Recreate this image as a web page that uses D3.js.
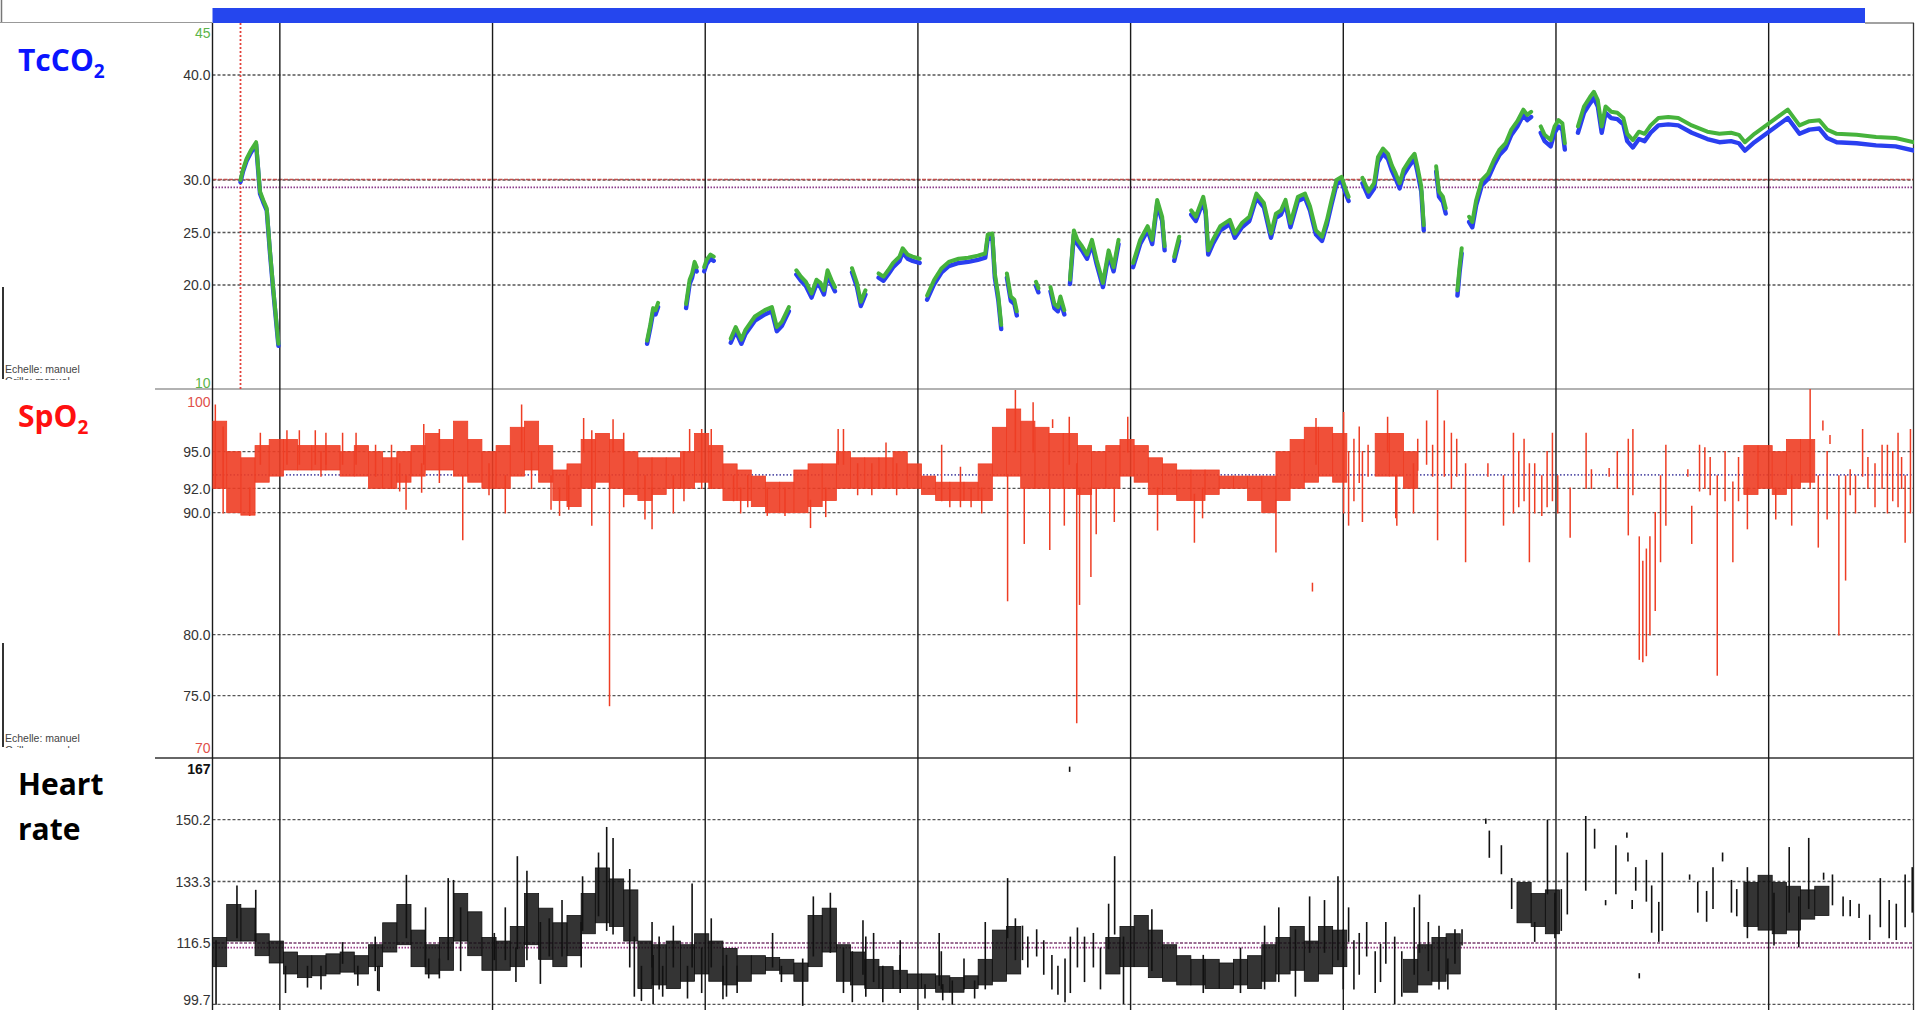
<!DOCTYPE html>
<html>
<head>
<meta charset="utf-8">
<script src="https://cdn.jsdelivr.net/npm/d3@7"></script>
<style>
  body { margin: 0; background: #fff; }
  svg { display: block; }
</style>
</head>
<body>
<svg id="chart"></svg>
<script>
// time is in minutes from the left edge of the record
const hourLines = [19, 79, 139, 199, 259, 319, 379, 439];
const probeStart = 7.9;

const tcTicks = [45, 40, 30, 25, 20, 10];
const tcLabels = ["45", "40.0", "30.0", "25.0", "20.0", "10"];
const tcGrid = [40, 30, 25, 20];
const tcLimits = [30.05, 29.3];

const spoTicks = [100, 95, 92, 90, 80, 75, 70];
const spoLabels = ["100", "95.0", "92.0", "90.0", "80.0", "75.0", "70"];
const spoGrid = [95, 92, 90, 80, 75];
const spoLimit = 93.1;

const hrTicks = [167, 150.2, 133.3, 116.5, 99.7];
const hrLabels = ["167", "150.2", "133.3", "116.5", "99.7"];
const hrGrid = [150.2, 133.3, 99.7];
const hrLimits = [116.5, 115.2];

// TcCO2 trace: null rows separate the recorded pieces
const tcTime = [
  7.9, 8.6, 9.6, 10.8, 12.3, 13.4, 14.3, 15.3, 16.2, 17.1, 18.6, null,
  122.6, 123.5, 124.3, 125.0, 125.7, null,
  133.6, 134.6, 135.3, 136.0, 136.6, null,
  138.7, 139.4, 140.5, 141.4, null,
  146.2, 147.6, 149.2, 150.3, 153.0, 155.8, 157.8, 159.2, 160.6, 162.6, null,
  164.7, 166.0, 167.4, 169.0, 170.4, 171.5, 172.5, 173.5, 174.6, 175.6, null,
  180.4, 181.8, 182.9, 184.2, null,
  187.9, 189.3, 190.6, 192.0, 193.8, 194.7, 196.1, 197.5, 199.5, null,
  201.6, 203.6, 205.7, 207.7, 210.5, 213.2, 215.9, 218.0, 218.7, 220.0, 220.7, 221.7, 222.5, null,
  224.1, 225.2, 226.2, 226.9, null,
  232.3, 233.0, null,
  236.4, 237.5, 238.5, 239.2, 240.3, null,
  241.9, 243.0, 244.0, 245.3, 246.7, 248.1, 249.4, 251.2, 252.8, 254.2, 255.6, null,
  259.7, 261.7, 263.8, 265.1, 266.5, 267.9, 268.6, null,
  271.3, 272.7, null,
  276.1, 277.4, 279.5, 280.2, 280.9, 282.2, 284.3, 287.0, 288.4, 290.4,
  292.5, 294.5, 296.6, 298.6, 300.0, 301.4, 302.7, 304.1, 306.2, 308.2,
  309.6, 311.3, 313.0, 314.4, 315.7, 317.1, 318.5, 319.8, 320.5, null,
  324.4, 326.1, 327.7, 328.8, 330.2, 331.6, 332.7, 333.8, 334.9, 336.0, 337.7, 339.1, 339.9, 341.0, 341.7, null,
  345.2, 346.0, 347.1, 347.9, null,
  351.2, 351.8, 352.4, null,
  354.5, 355.4, 356.5, 358.1, 359.8, 361.5, 363.1, 364.8, 366.4, 368.1, 369.8, 370.9, 372.0, null,
  374.7, 375.8, 377.5, 378.6, 379.7, 380.8, 381.5, null,
  385.2, 386.9, 388.6, 389.7, 390.8, 391.9, 393.0, 394.6, 396.3, 398.0,
  399.1, 400.7, 402.4, 404.0, 405.7, 407.9, 410.7, 413.5, 417.3, 421.7,
  425.1, 428.4, 430.6, 432.3, 435.0, 438.3, 441.1, 444.4, 447.7, 450.5,
  453.3, 455.5, 458.2, 463.8, 469.3, 474.8, 480.0
];
const tcGreen = [
  30.0, 31.0, 32.0, 32.8, 33.6, 28.9, 28.1, 27.3, 23.3, 19.8, 14.4, null,
  14.7, 16.2, 17.8, 17.6, 18.3, null,
  18.2, 20.5, 21.1, 22.2, 21.7, null,
  21.7, 22.4, 22.9, 22.7, null,
  14.9, 16.0, 14.8, 15.7, 17.0, 17.6, 17.9, 16.0, 16.5, 17.9, null,
  21.4, 20.8, 20.3, 19.2, 20.5, 20.2, 19.5, 21.4, 20.5, 19.8, null,
  21.6, 20.2, 18.4, 19.5, null,
  21.1, 20.8, 21.4, 22.1, 22.7, 23.5, 22.9, 22.7, 22.5, null,
  19.0, 20.5, 21.6, 22.2, 22.5, 22.6, 22.8, 23.0, 24.8, 24.9, 21.1, 18.9, 16.2, null,
  21.1, 18.9, 18.6, 17.5, null,
  20.3, 19.7, null,
  19.8, 18.2, 17.9, 18.9, 17.6, null,
  20.5, 25.2, 24.3, 23.7, 22.9, 24.3, 22.4, 20.2, 23.3, 21.7, 24.3, null,
  22.1, 24.3, 25.6, 24.3, 28.1, 26.5, 23.7, null,
  22.7, 24.6, null,
  27.1, 26.5, 28.4, 27.1, 23.3, 24.3, 25.6, 26.2, 24.9, 25.9,
  26.5, 28.7, 27.8, 24.9, 26.8, 27.1, 28.1, 25.9, 28.4, 28.7,
  27.5, 25.2, 24.6, 26.2, 28.1, 30.0, 30.3, 29.0, 28.4, null,
  30.2, 28.9, 29.7, 32.2, 33.0, 32.5, 31.4, 30.6, 29.7, 31.0, 31.9, 32.5, 31.3, 29.4, 25.7, null,
  31.3, 28.9, 28.4, 27.3, null,
  19.5, 21.7, 23.5, null,
  26.5, 26.0, 28.1, 30.0, 30.6, 31.9, 32.9, 33.5, 34.8, 35.6, 36.7, 36.2, 36.5, null,
  35.1, 34.3, 33.8, 35.1, 35.7, 35.4, 33.5, null,
  35.1, 37.0, 37.9, 38.4, 37.6, 35.1, 37.0, 36.5, 36.4, 35.9,
  34.4, 33.8, 34.6, 34.4, 35.2, 35.9, 36.0, 35.9, 35.2, 34.6,
  34.4, 34.5, 34.3, 33.6, 34.4, 35.2, 35.9, 36.7, 35.2, 35.6,
  35.7, 34.8, 34.4, 34.3, 34.1, 34.0, 33.6
];
const tcBlue = [
  29.8, 30.8, 31.8, 32.6, 33.4, 28.7, 27.9, 27.1, 23.1, 19.6, 14.2, null,
  14.4, 15.9, 17.4, 17.2, 17.9, null,
  17.8, 20.1, 20.7, 21.8, 21.3, null,
  21.3, 22.0, 22.5, 22.3, null,
  14.5, 15.6, 14.4, 15.3, 16.6, 17.2, 17.5, 15.6, 16.1, 17.5, null,
  21.0, 20.4, 19.9, 18.8, 20.1, 19.8, 19.1, 21.0, 20.1, 19.4, null,
  21.2, 19.8, 18.0, 19.1, null,
  20.7, 20.4, 21.0, 21.7, 22.3, 23.1, 22.5, 22.3, 22.1, null,
  18.6, 20.1, 21.2, 21.8, 22.1, 22.2, 22.4, 22.6, 24.4, 24.5, 20.7, 18.5, 15.8, null,
  20.7, 18.5, 18.2, 17.1, null,
  19.9, 19.3, null,
  19.4, 17.8, 17.5, 18.5, 17.2, null,
  20.1, 24.8, 23.9, 23.3, 22.5, 23.9, 22.0, 19.8, 22.9, 21.3, 23.9, null,
  21.7, 23.9, 25.2, 23.9, 27.7, 26.1, 23.3, null,
  22.3, 24.2, null,
  26.7, 26.1, 28.0, 26.7, 22.9, 23.9, 25.2, 25.8, 24.5, 25.5,
  26.1, 28.3, 27.4, 24.5, 26.4, 26.7, 27.7, 25.5, 28.0, 28.3,
  27.1, 24.8, 24.2, 25.8, 27.7, 29.6, 29.9, 28.6, 28.0, null,
  29.7, 28.4, 29.2, 31.7, 32.5, 32.0, 30.9, 30.1, 29.2, 30.5, 31.4, 32.0, 30.8, 28.9, 25.2, null,
  30.8, 28.4, 27.9, 26.8, null,
  19.0, 21.2, 23.0, null,
  26.0, 25.5, 27.6, 29.5, 30.1, 31.4, 32.4, 33.0, 34.3, 35.1, 36.2, 35.7, 36.0, null,
  34.5, 33.7, 33.2, 34.5, 35.1, 34.8, 32.9, null,
  34.5, 36.4, 37.3, 37.8, 37.0, 34.5, 36.4, 35.9, 35.8, 35.3,
  33.7, 33.1, 33.9, 33.7, 34.5, 35.2, 35.3, 35.2, 34.5, 33.9,
  33.6, 33.7, 33.5, 32.8, 33.6, 34.4, 35.1, 35.9, 34.4, 34.8,
  34.9, 34.0, 33.6, 33.5, 33.3, 33.2, 32.8
];

// SpO2 and heart rate: low / high of each 4-minute bin, null where the signal is sparse
const binMinutes = 4;
const spoLo = [
  92, 90, 89.8, 92.5, 93, 93.5, 93.5, 93.5, 93.5, 93,
  93, 92, 92, 92.5, 93, 93.5, 93.5, 93, 92.5, 92,
  92, 93, 93.5, 92.5, 91, 90.5, 92, 92.5, 92, 91.5,
  91, 91.5, 92, 92, 92.5, 92, 91, 91, 90.5, 90,
  90, 90, 90.5, 91, 92, 92, 92, 92, 92, 92,
  91.5, 91, 91, 91, 91, 93, 93, 92, 92, 92,
  92, 91.5, 92, 92, 93, 92.5, 91.5, 91.5, 91, 91,
  91.5, 92, 92, 91, 90, 91, 92, 92.5, 93, 92.5,
  null, null, 93, 93, 92, null, null, null, null, null,
  null, null, null, null, null, null, null, null, null, null,
  null, null, null, null, null, null, null, null, 91.5, 92,
  91.5, 92, 92.5, null, null, null, null, null, null, null
];
const spoHi = [
  97.5, 95, 94.5, 95.5, 96, 96, 95.5, 95.5, 95.5, 95,
  95.5, 95, 94.5, 95, 95.5, 96.5, 96, 97.5, 96, 95,
  95.5, 97, 97.5, 95.5, 93.5, 94, 96, 96.5, 96, 95,
  94.5, 94.5, 94.5, 95, 96.5, 95.5, 94, 93.5, 93, 92.5,
  92.5, 93.5, 94, 94, 95, 94.5, 94.5, 94.5, 95, 94,
  93, 92.5, 92.5, 92.5, 94, 97, 98.5, 97.5, 97, 96.5,
  96.5, 95.5, 95, 95.5, 96, 95.5, 94.5, 94, 93.5, 93.5,
  93.5, 93, 93, 93, 93, 95, 96, 97, 97, 96.5,
  null, null, 96.5, 96.5, 95, null, null, null, null, null,
  null, null, null, null, null, null, null, null, null, null,
  null, null, null, null, null, null, null, null, 95.5, 95.5,
  95, 96, 96, null, null, null, null, null, null, null
];
// [time, low, high] single strokes: spikes, dips, band edges and the sparse part of the record
const spoStrokes = [
  [0.8, 92, 98.8], [3, 90, 97], [10.5, 89.8, 92], [54.6, 90.3, 93], [59.6, 94, 97.2],
  [70.6, 87.8, 93], [82.6, 90, 93], [87.2, 95, 98.8], [97.9, 89.8, 92], [104.7, 95, 97.7],
  [112, 74.2, 93], [113, 95, 97.6], [124, 88.7, 92], [134.6, 95, 96.8], [149, 90, 92],
  [168.7, 88.8, 91], [176.5, 94, 96.8], [217, 90, 92], [224.3, 82.8, 93], [226.5, 95, 100],
  [229, 87.5, 92], [231.5, 95, 99], [236.2, 87, 92], [237, 97, 97.6], [240.3, 89, 92],
  [241.7, 94, 97.8], [243.8, 72.8, 94], [244.6, 82.5, 92], [247.8, 84.8, 92], [249.3, 88.3, 92],
  [254.4, 89.3, 92], [258.2, 95, 97.8], [266.6, 88.6, 92], [277, 87.6, 91.5], [279.3, 89.6, 92],
  [300, 86.8, 91], [310.3, 83.6, 84.2], [311.3, 94, 97.7],
  [13.5, 94, 96.5], [21, 94, 96.7], [24.5, 94, 96.7], [29, 94, 96.7], [30.6, 93, 95],
  [32, 94, 96.5], [36.7, 94, 96.5], [40.5, 94, 96.5], [46, 93, 95.5], [50.5, 92, 95.5],
  [52.8, 91.8, 94], [59, 91.7, 94], [64, 92.5, 96.8], [78, 91.5, 94], [90, 92, 95],
  [95.5, 90.3, 93], [100.5, 90.3, 93], [107, 89, 96.7], [116, 90.5, 96.5], [122, 89.5, 93],
  [130, 90, 93], [133, 91, 95], [138, 92, 96.8], [140.7, 92, 96.8], [147, 91, 93],
  [151, 90.5, 93], [156.5, 89.8, 92], [161.5, 89.8, 92], [173, 89.7, 92], [178, 94, 96.8],
  [182, 91.5, 94], [186, 91.5, 94], [190, 92, 95.7], [193, 91.5, 94], [205.7, 91, 95.5],
  [208, 90.5, 92], [211, 90.5, 93.7], [214, 90.5, 92],
  [319.1, 90, 98.2], [320.5, 89, 95], [322, 91, 96], [323.5, 92.5, 97], [324.4, 89.3, 95],
  [326, 93, 95.5], [331.5, 95, 97.8], [333.8, 89.6, 93], [334.1, 89, 93], [338.8, 90, 94],
  [340, 93.5, 96], [342.5, 94, 97.5], [344.2, 93, 95.5], [345.6, 87.8, 100], [347.5, 93, 97.5],
  [349.5, 92, 96.5], [351, 93, 96], [353.5, 86, 94], [359.8, 93, 94], [364.2, 89, 93],
  [367, 90, 96.5], [368.5, 90.5, 95], [370, 91, 96], [371.5, 86, 94], [373, 90, 94],
  [375, 89.8, 93], [376.5, 90.5, 95], [378, 91, 96.5], [379.5, 90, 93], [383, 88, 92],
  [387.5, 92, 96.5], [389, 92, 93.5], [394, 93, 93.6], [396.3, 92, 95], [399.4, 88.2, 96],
  [400.7, 91.5, 96.8], [402.5, 78, 88], [403.5, 77.8, 86], [404.5, 78.3, 87], [405.5, 80, 88],
  [407, 82, 90], [408.5, 86, 93], [410, 89, 95.5], [416.2, 93, 93.5], [417.3, 87.5, 90.5],
  [419.5, 91.8, 95.5], [421, 92, 95.3], [422.5, 91.5, 94.5], [424.5, 76.7, 93], [426.7, 91, 95],
  [428.9, 86, 92.5], [430.5, 91, 94.5], [433, 88.7, 92], [441, 89.5, 92], [445.5, 89, 93],
  [450.7, 92, 100.5], [453, 87.2, 93], [454.3, 96.8, 97.5], [455.5, 89.5, 95], [456.3, 95.7, 96.3],
  [458.8, 80, 93], [460.7, 84.5, 93], [462, 91.5, 93.5], [463.5, 90, 93], [465.5, 93, 96.8],
  [467, 92, 94.5], [469, 90.5, 94], [471, 92, 95.5], [472.5, 90, 95.5], [474, 91, 95],
  [475.5, 90.5, 96.5], [476.5, 92, 94.5], [477.5, 87.6, 93], [479, 90, 96.8]
];

const hrLo = [
  110, 117, 117, 113, 111, 108, 107, 107.5, 108, 108.5,
  108, 110, 114, 116, 110, 108, 109, 117, 113, 109,
  109, 110, 116, 112, 110, 113, 119, 122, 121, 117,
  104, 105, 104, 106, 108, 106, 105, 106, 108, 109,
  108, 106, 110, 114, 106, 105, 104, 104, 104, 104,
  104, 103, 103, 104, 105, 106, 108, null, null, null,
  null, null, null, 108, 110, 110, 107, 106, 105, 105,
  104, 104, 105, 104, 106, 108, 109, 106, 108, 110,
  null, null, null, null, 103, 105, 106, 108, null, null,
  null, null, 122, 121, 119, null, null, null, null, null,
  null, null, null, null, null, null, null, null, 121, 120,
  119, 120, 123, 124, null, null, null, null, null, null
];
const hrHi = [
  118, 127, 126, 119, 117, 114, 113, 113, 113.5, 114,
  113, 116, 122, 127, 120, 116, 118, 130, 125, 118,
  117, 121, 130, 126, 122, 124, 130, 137, 134, 131,
  117, 116, 117, 116, 119, 117, 115, 113, 113, 112.5,
  112, 111, 124, 126, 116, 114, 112, 110, 109, 108,
  108, 107.5, 107, 107.5, 112, 120, 121, null, null, null,
  null, null, null, 118, 121, 124, 120, 116, 113, 112,
  112, 111, 112, 113, 116, 118, 121, 117, 121, 120,
  null, null, null, null, 112, 116, 118, 119, null, null,
  null, null, 133, 130, 131, null, null, null, null, null,
  null, null, null, null, null, null, null, null, 133, 135,
  133, 132, 131, 132, null, null, null, null, null, null
];
const hrStrokes = [
  [1, 99.8, 117], [6.9, 118, 132], [12.2, 117, 130.8], [36.7, 111, 116.5], [45.9, 109, 118],
  [47, 103.5, 110], [54.7, 118, 134.9], [60.1, 110, 126], [66.5, 112, 134], [68, 118, 133.5],
  [70, 109, 126], [86, 115, 140], [88.7, 112, 136], [92.5, 105.5, 122], [98.6, 113, 128],
  [104.4, 120, 134.5], [108.9, 124, 141], [111.2, 120, 148], [113, 119, 145], [117.7, 110, 136.5],
  [119, 102, 118], [124.3, 100, 113], [126, 104, 118], [135.3, 110, 132.5], [138, 103, 115],
  [145, 102, 113], [158, 110, 119], [166.5, 99.5, 112], [169.5, 113, 129], [174.3, 114, 130],
  [178, 103, 115], [180.5, 100.5, 114], [184.3, 102, 118], [189.1, 100.5, 110], [194, 103, 113],
  [205.6, 104, 114], [208.7, 99.8, 106], [212, 104, 112], [218, 104, 122], [224.3, 118, 134],
  [226.5, 112, 123], [228.5, 112, 121], [230, 110, 118], [232.5, 113, 120], [234.5, 108, 117],
  [236.8, 104, 113], [238.5, 102.5, 110],
  [20.6, 103, 110], [26.8, 104.5, 110], [30.6, 104, 110], [41, 105, 110], [46.6, 103.6, 110],
  [61, 107, 112], [64, 107, 112], [79.5, 112, 119], [82.6, 112, 126], [85.6, 106, 115],
  [95, 113, 123], [104, 110, 122], [121, 100.8, 110], [124, 110, 122], [127, 102, 110],
  [130, 110, 121], [134, 101.5, 110], [140.7, 110, 123], [144, 101.3, 110], [148, 103, 110],
  [160.5, 106, 110], [183.5, 108, 122.5], [186.5, 106, 119], [194, 108, 117], [201, 101.5, 105],
  [205, 105, 119], [206, 101, 105], [215, 101.5, 106],
  [240.5, 100.5, 112], [241.8, 163.5, 164.5], [242, 103, 118], [244, 110, 120.5], [246, 106, 118],
  [248.5, 110, 119], [250.5, 104, 115], [252.8, 115, 127], [254.5, 119, 140], [257, 100, 118],
  [265, 109, 125.5], [279.5, 103, 113], [290, 103, 115], [296.8, 104, 121], [300.8, 106, 126],
  [305.5, 102, 120], [309.5, 114, 129], [313.7, 114, 128], [317.5, 112, 134.5], [319, 104, 120],
  [320.5, 117, 126], [322, 104, 117], [323.5, 108, 119], [325.6, 113, 122], [328, 103, 114],
  [329.5, 106, 116], [331, 111, 122], [333.5, 100, 118], [335.5, 102, 114], [339, 108, 126],
  [340.5, 114, 129.5], [343, 109, 122], [346, 104, 121], [348.5, 104, 112], [350.5, 111, 120],
  [352.5, 116, 120],
  [359.2, 149.3, 150.3], [360.2, 140, 147], [363.6, 135.5, 143], [366.5, 126, 134], [373, 117, 122],
  [376.6, 130, 150], [378.7, 118, 130], [380.5, 120, 131], [382.2, 124.5, 141], [387.4, 131, 151],
  [389.9, 142.5, 147.5], [393, 127, 128], [395.9, 130, 143], [399, 145.5, 146.5], [399.3, 139, 141],
  [400.5, 126, 128], [401.5, 131, 137], [402.5, 107, 108], [404.5, 128, 139], [406, 119.5, 132],
  [408, 117, 127.5], [409, 120, 141], [416.7, 134, 135], [419, 125, 133], [421.5, 122.5, 130.5],
  [423.3, 126, 137], [426, 139, 141], [428.5, 125, 133.5], [430, 124, 131], [433, 118, 137],
  [440.5, 116, 130], [444.8, 125, 142.5], [447.5, 115.5, 129], [450.3, 126, 145], [454.5, 134, 135.5],
  [457, 127, 135], [460, 124, 129], [462, 124, 128], [464.5, 123.5, 127], [467.5, 117.5, 124],
  [470.5, 121, 134], [473, 118, 128], [475, 117.5, 127], [477.5, 121, 135], [479.5, 125, 137]
];

// ---- layout ----
const width = 1915, height = 1010;
const plotLeft = 212.5, plotRight = 1914;
const tcTop = 23, tcBottom = 389, spTop = 389, spBottom = 758, hrTop = 758, hrBottom = 1010;
const labelFont = "'Liberation Sans', Arial, sans-serif";
const titleFont = "'Open Sans', 'Noto Sans', sans-serif";

const x = d3.scaleLinear().domain([0, 480]).range([plotLeft, plotRight]);
const yTc = d3.scaleLinear().domain([10, 45]).range([390, 22.5]);
const ySp = d3.scaleLinear().domain([70, 100]).range([756.7, 390.7]);
const yHr = d3.scaleLinear().domain([99.7, 167]).range([1004.3, 758.3]);

const svg = d3.select("#chart").attr("width", width).attr("height", height);

const defs = svg.append("defs");
[["clipTc", tcTop, tcBottom], ["clipSp", spTop, spBottom], ["clipHr", hrTop, hrBottom]].forEach(([id, t, b]) => {
  defs.append("clipPath").attr("id", id).append("rect")
    .attr("x", plotLeft).attr("y", t).attr("width", plotRight - plotLeft).attr("height", b - t);
});
[["clipNote1", 0, 380], ["clipNote2", 390, 748]].forEach(([id, t, b]) => {
  defs.append("clipPath").attr("id", id).append("rect")
    .attr("x", 0).attr("y", t).attr("width", 150).attr("height", b - t);
});

// frame bits
svg.append("rect").attr("x", plotLeft).attr("y", 8).attr("width", 1865 - plotLeft).attr("height", 15).attr("fill", "#2546ee");
svg.append("line").attr("x1", 0).attr("x2", plotLeft).attr("y1", 22.5).attr("y2", 22.5).attr("stroke", "#999").attr("stroke-width", 1.2);
svg.append("line").attr("x1", 1.5).attr("x2", 1.5).attr("y1", 0).attr("y2", 22).attr("stroke", "#777").attr("stroke-width", 1.5);
svg.append("line").attr("x1", 1865).attr("x2", plotRight).attr("y1", 23).attr("y2", 23).attr("stroke", "#444").attr("stroke-width", 1.2);
svg.append("line").attr("x1", 155).attr("x2", plotRight).attr("y1", 389).attr("y2", 389).attr("stroke", "#999").attr("stroke-width", 1.3);
svg.append("line").attr("x1", 155).attr("x2", plotRight).attr("y1", 758).attr("y2", 758).attr("stroke", "#333").attr("stroke-width", 1.6);
svg.append("line").attr("x1", 3).attr("x2", 3).attr("y1", 287).attr("y2", 379).attr("stroke", "#333").attr("stroke-width", 2);
svg.append("line").attr("x1", 3).attr("x2", 3).attr("y1", 643).attr("y2", 747).attr("stroke", "#333").attr("stroke-width", 2);

// horizontal grid
function hLines(y, values, color, dash, w) {
  svg.append("g").selectAll("line").data(values).join("line")
    .attr("x1", plotLeft).attr("x2", plotRight)
    .attr("y1", d => y(d)).attr("y2", d => y(d))
    .attr("stroke", color).attr("stroke-width", w).attr("stroke-dasharray", dash);
}
hLines(yTc, tcGrid, "#555", "3,2", 1.3);
hLines(ySp, spoGrid, "#555", "3,2", 1.3);
hLines(yHr, hrGrid, "#555", "3,2", 1.3);
hLines(yTc, [tcLimits[0]], "#c0504d", "4,1.5", 1.6);
hLines(yTc, [tcLimits[1]], "#8a3a8a", "1.5,1.5", 1.8);
hLines(ySp, [spoLimit], "#5a55aa", "1.5,2", 1.6);
hLines(yHr, [hrLimits[0]], "#7a3f6f", "3,1.5", 1.5);
hLines(yHr, [hrLimits[1]], "#9a3f8a", "1.5,1.5", 1.6);

// vertical hour lines and axis line
svg.append("g").selectAll("line").data(hourLines).join("line")
  .attr("x1", d => x(d)).attr("x2", d => x(d)).attr("y1", tcTop).attr("y2", height)
  .attr("stroke", "#1a1a1a").attr("stroke-width", 1.4);
svg.append("line").attr("x1", plotLeft).attr("x2", plotLeft).attr("y1", tcTop).attr("y2", height)
  .attr("stroke", "#1a1a1a").attr("stroke-width", 1.4);
svg.append("line").attr("x1", plotRight - 0.5).attr("x2", plotRight - 0.5).attr("y1", tcTop).attr("y2", height)
  .attr("stroke", "#333").attr("stroke-width", 1.3);

// probe start marker
svg.append("line").attr("x1", x(probeStart)).attr("x2", x(probeStart)).attr("y1", tcTop).attr("y2", tcBottom)
  .attr("stroke", "#e2403a").attr("stroke-width", 1.8).attr("stroke-dasharray", "2,2");

// ---- traces ----
const tcPts = tcTime.map((t, i) => ({ t: t, g: tcGreen[i], b: tcBlue[i] }));
const tcLine = key => d3.line()
  .defined(d => d.t != null && d[key] != null)
  .x(d => x(d.t)).y(d => yTc(d[key]));
const tcG = svg.append("g").attr("clip-path", "url(#clipTc)").attr("fill", "none")
  .attr("stroke-linejoin", "round").attr("stroke-linecap", "round");
tcG.append("path").datum(tcPts).attr("d", tcLine("b")).attr("stroke", "#2a3ff0").attr("stroke-width", 4.4);
tcG.append("path").datum(tcPts).attr("d", tcLine("g")).attr("stroke", "#46b33c").attr("stroke-width", 4);

// each bin is drawn as a block from its low to its high value
function drawBand(clip, y, lo, hi, color, opacity) {
  const bins = lo.map((v, i) => ({ t: i * binMinutes, lo: v, hi: hi[i] })).filter(d => d.lo != null);
  svg.append("g").attr("clip-path", `url(#${clip})`)
    .selectAll("rect").data(bins).join("rect")
    .attr("x", d => x(d.t)).attr("width", d => x(d.t + binMinutes) - x(d.t))
    .attr("y", d => y(d.hi)).attr("height", d => y(d.lo) - y(d.hi))
    .attr("fill", color).attr("fill-opacity", opacity)
    .attr("stroke", color).attr("stroke-width", 0.8);
}
function drawStrokes(clip, y, strokes, color, w) {
  svg.append("g").attr("clip-path", `url(#${clip})`)
    .selectAll("line").data(strokes).join("line")
    .attr("x1", d => x(d[0])).attr("x2", d => x(d[0]))
    .attr("y1", d => y(d[1])).attr("y2", d => y(d[2]))
    .attr("stroke", color).attr("stroke-width", w).attr("stroke-linecap", "square");
}
drawBand("clipSp", ySp, spoLo, spoHi, "#ee3d24", 0.9);
drawStrokes("clipSp", ySp, spoStrokes, "#ee3d24", 1.5);
drawBand("clipHr", yHr, hrLo, hrHi, "#111", 0.85);
drawStrokes("clipHr", yHr, hrStrokes, "#111", 1.6);

// ---- axes ----
function drawAxis(y, ticks, labels, nudges, colors, bold) {
  const g = svg.append("g")
    .attr("transform", `translate(${plotLeft - 2},0)`)
    .call(d3.axisLeft(y).tickValues(ticks).tickFormat((d, i) => labels[i]).tickSize(0).tickPadding(0));
  g.select(".domain").remove();
  g.attr("font-family", labelFont).attr("font-size", 14);
  g.selectAll(".tick text")
    .attr("dy", (d, i) => 4.8 + nudges[i])
    .attr("fill", (d, i) => colors[i])
    .attr("font-weight", (d, i) => bold[i] ? "bold" : "normal");
}
drawAxis(yTc, tcTicks, tcLabels, [10.5, 0, 0, 0, 0, -7],
  ["#5cb44a", "#333", "#333", "#333", "#333", "#5cb44a"], [false, false, false, false, false, false]);
drawAxis(ySp, spoTicks, spoLabels, [11, 0, 0, 0, 0, 0, -9],
  ["#e0504a", "#333", "#333", "#333", "#333", "#333", "#e0504a"], [false, false, false, false, false, false, false]);
drawAxis(yHr, hrTicks, hrLabels, [10, 0, 0, 0, -4.5],
  ["#111", "#333", "#333", "#333", "#333"], [true, false, false, false, false]);

// ---- side titles and notes ----
function title(txt, sub, yPos, color) {
  const t = svg.append("text").attr("x", 18).attr("y", yPos).attr("fill", color)
    .attr("font-family", titleFont).attr("font-weight", "bold").attr("font-size", 30).text(txt);
  if (sub) t.append("tspan").attr("font-size", 19).attr("dy", 7).text(sub);
}
title("TcCO", "2", 71, "#0a14ff");
title("SpO", "2", 427, "#ff1010");
title("Heart", null, 795, "#000");
title("rate", null, 840, "#000");

[["clipNote1", 373], ["clipNote2", 742]].forEach(([clip, yPos]) => {
  const g = svg.append("g").attr("clip-path", `url(#${clip})`)
    .attr("font-family", labelFont).attr("font-size", 10.5).attr("fill", "#444");
  g.append("text").attr("x", 5).attr("y", yPos).text("Echelle: manuel");
  g.append("text").attr("x", 5).attr("y", yPos + 12).text("Grille: manuel");
});
</script>
</body>
</html>
